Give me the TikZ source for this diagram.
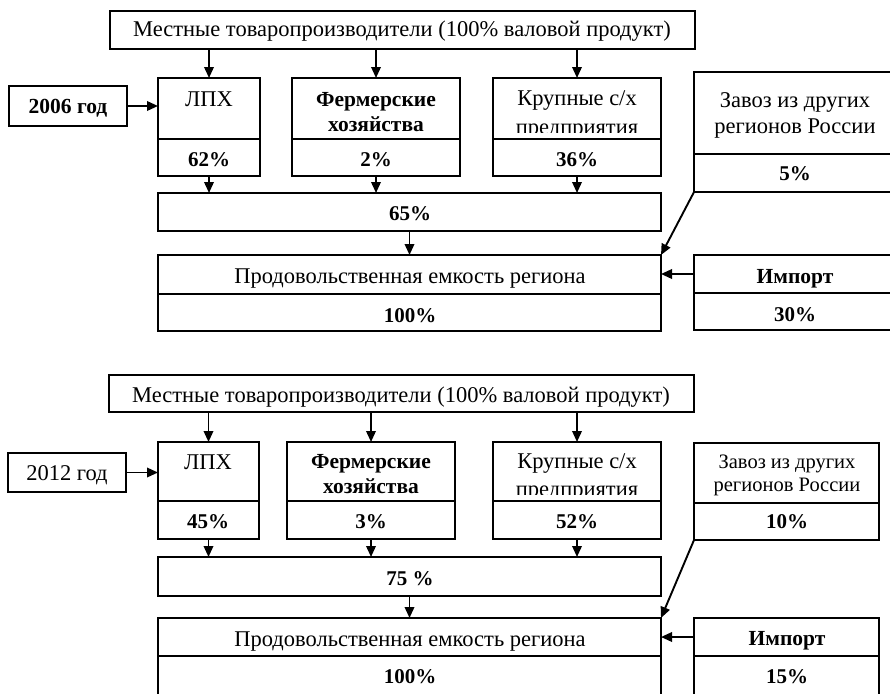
\documentclass[tikz,border=0pt]{standalone}
\usepackage{fontspec}
\setmainfont{Liberation Serif}
\usetikzlibrary{arrows.meta}
\begin{document}
\begin{tikzpicture}[x=1pt,y=-1pt,line width=1.9pt,
  cell/.style={draw,rectangle,anchor=north west,inner sep=0pt,outer sep=0pt},
  txt/.style={inner sep=0pt,anchor=base,font=\fontsize{22.5}{26}\selectfont},
  btxt/.style={inner sep=0pt,anchor=base,font=\fontsize{21.5}{26}\selectfont\bfseries},
  ptxt/.style={inner sep=0pt,anchor=base,font=\fontsize{21}{26}\selectfont\bfseries},
  stxt/.style={inner sep=0pt,anchor=base,font=\fontsize{20.5}{24}\selectfont},
  arr/.style={-{Triangle[length=11pt,width=9.5pt]},line width=1.9pt}
]
\useasboundingbox (0,0) rectangle (890,693);
\clip (0,0) rectangle (890,693);

% ================= 2006 =================
\node[cell,minimum width=585pt,minimum height=38pt] (t1) at (110,11) {};
\node[txt] (t1t) at (402,37) {Местные товаропроизводители (100\% валовой продукт)};

\node[cell,minimum width=102pt,minimum height=61pt] (lph1) at (158,78) {};
\node[cell,minimum width=102pt,minimum height=37pt] (lph1p) at (158,139) {};
\node[txt] (lph1t) at (209,106) {ЛПХ};
\node[ptxt] (lph1v) at (209,166) {62\%};

\node[cell,minimum width=168pt,minimum height=61pt] (frm1) at (292,78) {};
\node[cell,minimum width=168pt,minimum height=37pt] (frm1p) at (292,139) {};
\node[btxt] (frm1t) at (376,106) {Фермерские};
\node[btxt] (frm1u) at (376,131) {хозяйства};
\node[ptxt] (frm1v) at (376,166) {2\%};

\node[cell,minimum width=168pt,minimum height=61pt] (krp1) at (493,78) {};
\node[cell,minimum width=168pt,minimum height=37pt] (krp1p) at (493,139) {};
\node[txt] (krp1t) at (577,105) {Крупные с/х};
\begin{scope}
  \clip (493,80) rectangle (661,132);
  \node[txt] (krp1u) at (577,134) {предприятия};
\end{scope}
\node[ptxt] (krp1v) at (577,166) {36\%};

\node[cell,minimum width=118pt,minimum height=40pt] (y1) at (9,86) {};
\node[btxt] (y1t) at (68,113) {2006 год};

\node[cell,minimum width=503pt,minimum height=38pt] (s1) at (158,193) {};
\node[ptxt] (s1t) at (410,220) {65\%};

\node[cell,minimum width=503pt,minimum height=39pt] (prod1) at (158,255) {};
\node[cell,minimum width=503pt,minimum height=37pt] (prod1p) at (158,294) {};
\node[txt] (prod1t) at (410,283) {Продовольственная емкость региона};
\node[ptxt] (prod1v) at (410,322) {100\%};

\node[cell,minimum width=200pt,minimum height=82pt] (zav1) at (694,72) {};
\node[cell,minimum width=200pt,minimum height=38pt] (zav1p) at (694,154) {};
\node[txt] (zav1t) at (795,107) {Завоз из других};
\node[txt] (zav1u) at (795,133) {регионов России};
\node[ptxt] (zav1v) at (795,180) {5\%};

\node[cell,minimum width=200pt,minimum height=38pt] (imp1) at (694,255) {};
\node[cell,minimum width=200pt,minimum height=37pt] (imp1p) at (694,293) {};
\node[btxt] (imp1t) at (795,283) {Импорт};
\node[ptxt] (imp1v) at (795,321) {30\%};

\draw[arr] (t1.south -| lph1.north) -- (lph1.north);
\draw[arr] (t1.south -| frm1.north) -- (frm1.north);
\draw[arr] (t1.south -| krp1.north) -- (krp1.north);
\draw[arr] (lph1p.south) -- (lph1p.south |- s1.north);
\draw[arr] (frm1p.south) -- (frm1p.south |- s1.north);
\draw[arr] (krp1p.south) -- (krp1p.south |- s1.north);
\draw[arr] (y1.east) -- (y1.east -| lph1.west);
\draw[arr] (s1.south) -- (prod1.north);
\draw[arr] (zav1p.south west) -- (prod1.north east);
\draw[arr] (imp1.west) -- (imp1.west -| prod1.east);

% ================= 2012 =================
\node[cell,minimum width=585pt,minimum height=37pt] (t2) at (109,375) {};
\node[txt] (t2t) at (401,402) {Местные товаропроизводители (100\% валовой продукт)};

\node[cell,minimum width=101pt,minimum height=59pt] (lph2) at (158,442) {};
\node[cell,minimum width=101pt,minimum height=38pt] (lph2p) at (158,501) {};
\node[txt] (lph2t) at (208,469) {ЛПХ};
\node[ptxt] (lph2v) at (208,528) {45\%};

\node[cell,minimum width=168pt,minimum height=59pt] (frm2) at (287,442) {};
\node[cell,minimum width=168pt,minimum height=38pt] (frm2p) at (287,501) {};
\node[btxt] (frm2t) at (371,468) {Фермерские};
\node[btxt] (frm2u) at (371,493) {хозяйства};
\node[ptxt] (frm2v) at (371,528) {3\%};

\node[cell,minimum width=168pt,minimum height=59pt] (krp2) at (493,442) {};
\node[cell,minimum width=168pt,minimum height=38pt] (krp2p) at (493,501) {};
\node[txt] (krp2t) at (577,468) {Крупные с/х};
\begin{scope}
  \clip (493,444) rectangle (661,494);
  \node[txt] (krp2u) at (577,496) {предприятия};
\end{scope}
\node[ptxt] (krp2v) at (577,528) {52\%};

\node[cell,minimum width=118pt,minimum height=39pt] (y2) at (8,453) {};
\node[txt] (y2t) at (67,480) {2012 год};

\node[cell,minimum width=503pt,minimum height=39pt] (s2) at (158,557) {};
\node[ptxt] (s2t) at (410,585) {75 \%};

\node[cell,minimum width=503pt,minimum height=38pt] (prod2) at (158,618) {};
\node[cell,minimum width=503pt,minimum height=54pt] (prod2p) at (158,656) {};
\node[txt] (prod2t) at (410,646) {Продовольственная емкость региона};
\node[ptxt] (prod2v) at (410,683) {100\%};

\node[cell,minimum width=185pt,minimum height=60pt] (zav2) at (694,443) {};
\node[cell,minimum width=185pt,minimum height=37pt] (zav2p) at (694,503) {};
\node[stxt] (zav2t) at (787,468) {Завоз из других};
\node[stxt] (zav2u) at (787,491) {регионов России};
\node[ptxt] (zav2v) at (787,528) {10\%};

\node[cell,minimum width=185pt,minimum height=38pt] (imp2) at (694,618) {};
\node[cell,minimum width=185pt,minimum height=54pt] (imp2p) at (694,656) {};
\node[btxt] (imp2t) at (787,645) {Импорт};
\node[ptxt] (imp2v) at (787,683) {15\%};

\draw[arr] (t2.south -| lph2.north) -- (lph2.north);
\draw[arr] (t2.south -| frm2.north) -- (frm2.north);
\draw[arr] (t2.south -| krp2.north) -- (krp2.north);
\draw[arr] (lph2p.south) -- (lph2p.south |- s2.north);
\draw[arr] (frm2p.south) -- (frm2p.south |- s2.north);
\draw[arr] (krp2p.south) -- (krp2p.south |- s2.north);
\draw[arr] (y2.east) -- (y2.east -| lph2.west);
\draw[arr] (s2.south) -- (prod2.north);
\draw[arr] (zav2p.south west) -- (prod2.north east);
\draw[arr] (imp2.west) -- (imp2.west -| prod2.east);
\end{tikzpicture}
\end{document}
